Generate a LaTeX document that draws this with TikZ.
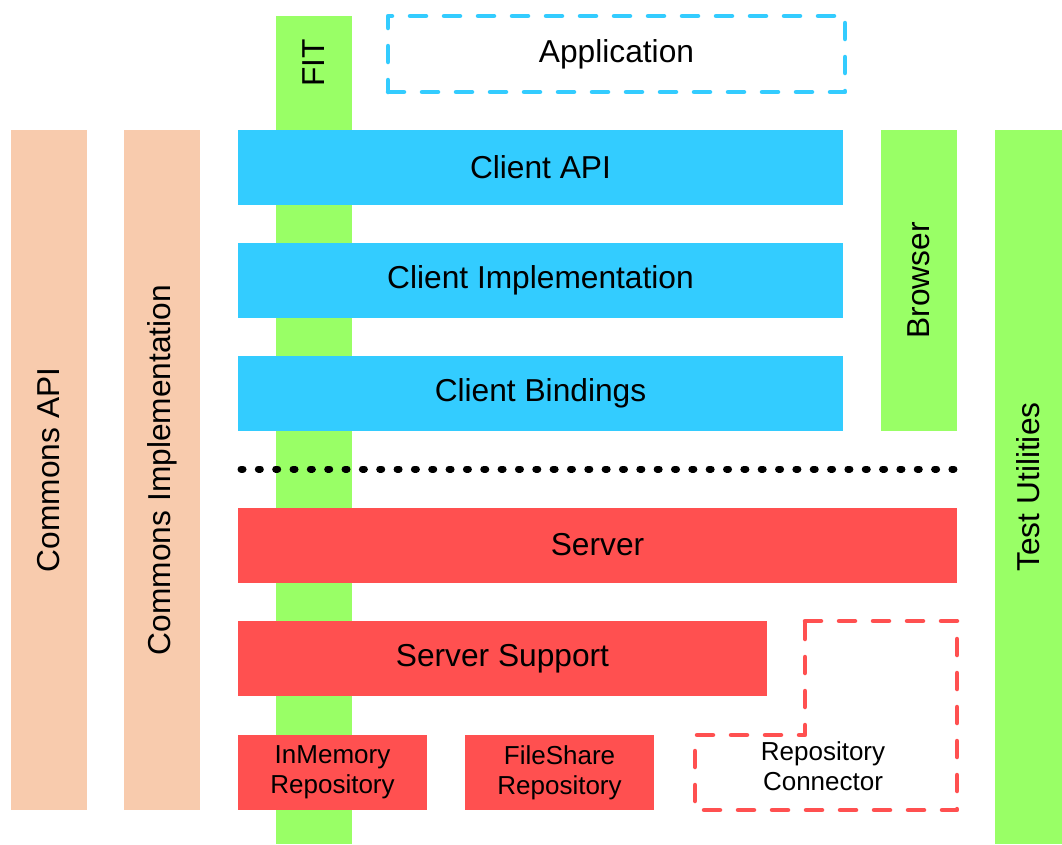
\documentclass[tikz,border=0pt]{standalone}
\usepackage{fontspec}
\setmainfont{Liberation Sans}
\definecolor{peach}{RGB}{248,203,173}
\definecolor{skyblue}{RGB}{51,204,255}
\definecolor{limegreen}{RGB}{153,255,102}
\definecolor{tomato}{RGB}{255,80,80}

\begin{document}
\begin{tikzpicture}
  [x=1pt,y=-1pt,
   every node/.style={inner sep=0,outer sep=0,font=\fontsize{31.7}{36}\selectfont},
   commonsbar/.style={fill=peach,rotate=90,minimum width=680,minimum height=76},
   greenbar/.style={fill=limegreen},
   clientbox/.style={fill=skyblue,minimum width=605,minimum height=75},
   serverbox/.style={fill=tomato,minimum height=75},
   repobox/.style={fill=tomato,minimum width=189,minimum height=75,align=center,
     font=\fontsize{26}{30}\selectfont},
   optional/.style={line width=4.5,dash pattern=on 16 off 18,line cap=round,line join=round}]
  \useasboundingbox (0,0) rectangle (1062,844);

  % commons on the left
  \node[commonsbar] (capi) at (49,470) {Commons API};
  \node[commonsbar] (cimpl) at (162,470) {Commons Implementation};

  % FIT runs behind client and server
  \node[greenbar,minimum width=76,minimum height=828] (fit) at (314,430) {};
  \node[rotate=90] (fitlabel) at (314,63) {FIT};
  \node[optional,draw=skyblue,minimum width=457,minimum height=76] (app) at (616.5,54) {Application};

  % client side
  \node[clientbox] (clientapi) at (540.5,167.5) {Client API};
  \node[clientbox] (clientimpl) at (540.5,280.5) {Client Implementation};
  \node[clientbox] (bindings) at (540.5,393.5) {Client Bindings};
  \node[greenbar,rotate=90,minimum width=301,minimum height=76] (browser) at (919,280.5) {Browser};
  \node[greenbar,rotate=90,minimum width=714,minimum height=67] (testutil) at (1028.5,487) {Test Utilities};

  \coordinate (sepl) at (241,469);
  \coordinate (sepr) at (954,469);
  \draw[line width=7,dash pattern=on 2 off 15.34,line cap=round] (sepl) -- (sepr);

  % server side
  \node[serverbox,minimum width=719] (server) at (597.5,545) {Server};
  \node[serverbox,minimum width=529] (support) at (502.5,658.5) {Server Support};
  \node[repobox] (inmemory) at (332.5,772.5) {InMemory\\Repository};
  \node[repobox] (fileshare) at (559.5,772.5) {FileShare\\Repository};
  \draw[optional,draw=tomato] (805,621) -- (957,621) -- (957,810) -- (695,810)
    -- (695,735) -- (805,735) -- cycle;
  \node[align=center,font=\fontsize{26}{30}\selectfont] (connector) at (823,766) {Repository\\Connector};

\end{tikzpicture}
\end{document}
